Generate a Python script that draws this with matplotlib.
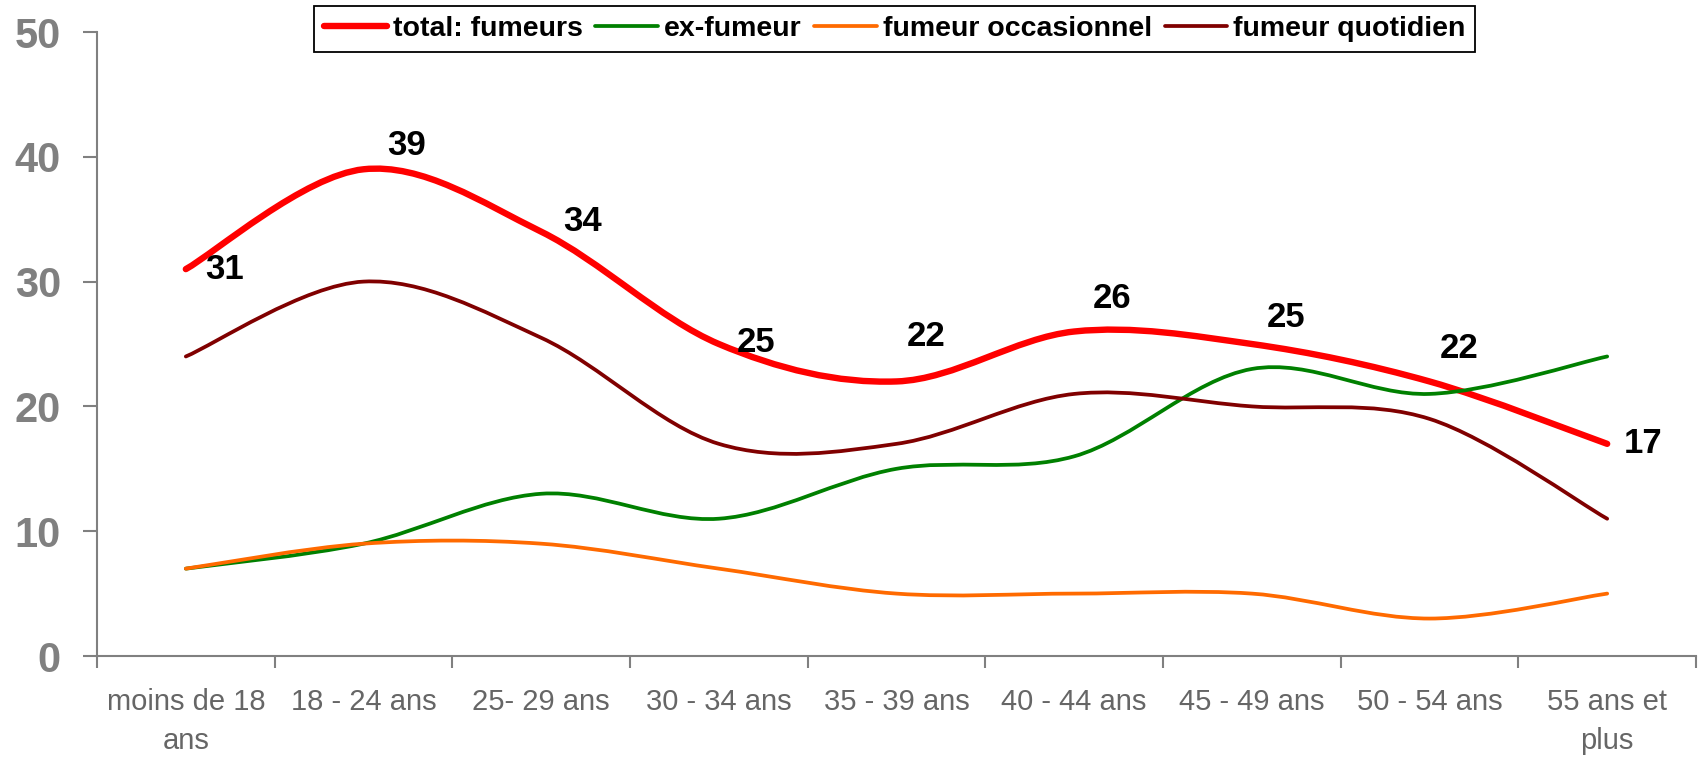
import numpy as np
import matplotlib
matplotlib.use("Agg")
import matplotlib.pyplot as plt
from matplotlib.path import Path
from matplotlib.patches import PathPatch
from matplotlib.lines import Line2D

# data (%)
categories = ["moins de 18\nans", "18 - 24 ans", "25- 29 ans", "30 - 34 ans",
              "35 - 39 ans", "40 - 44 ans", "45 - 49 ans", "50 - 54 ans",
              "55 ans et\nplus"]
total = [31, 39, 34, 25, 22, 26, 25, 22, 17]
ex_fumeur = [7, 9, 13, 11, 15, 16, 23, 21, 24]
occasionnel = [7, 9, 9, 7, 5, 5, 5, 3, 5]
quotidien = [24, 30, 25.5, 17, 17, 21, 20, 19, 11]

series_names = ["total: fumeurs", "ex-fumeur", "fumeur occasionnel", "fumeur quotidien"]
colors = ["#FF0000", "#008000", "#FF6A00", "#800000"]
widths = [4.6, 2.7, 2.7, 2.7]

# offsets (points) of the value labels on the total line
label_offsets = [(28, 0), (31, 17), (30, 7), (27, 1), (21, 32),
                 (27, 24), (25, 19), (21, 24), (26, 0)]

plt.rcParams["font.family"] = ["Liberation Sans", "DejaVu Sans"]


def smooth_path(xs, ys):
    # Excel-like smoothed line: cubic bezier through every point
    pts = np.column_stack([xs, ys]).astype(float)
    pad = np.vstack([pts[0], pts, pts[-1]])
    verts = [pts[0]]
    codes = [Path.MOVETO]
    for i in range(len(pts) - 1):
        p0, p1, p2, p3 = pad[i], pad[i + 1], pad[i + 2], pad[i + 3]
        verts += [p1 + (p2 - p0) / 6, p2 - (p3 - p1) / 6, p2]
        codes += [Path.CURVE4] * 3
    return Path(verts, codes)


fig = plt.figure(figsize=(16.98, 7.57), dpi=100)
ax = fig.add_axes([97 / 1698, 101 / 757, 1599 / 1698, 624 / 757])

x = np.arange(len(categories))
handles = []
for vals, name, c, lw in zip([total, ex_fumeur, occasionnel, quotidien],
                             series_names, colors, widths):
    patch = PathPatch(smooth_path(x, vals), fill=False, edgecolor=c, lw=lw,
                      capstyle="round", joinstyle="round")
    ax.add_patch(patch)
    handles.append(Line2D([], [], color=c, lw=lw, solid_capstyle="round"))

for xi, v, off in zip(x, total, label_offsets):
    ax.annotate(str(v), (xi, v), xytext=off, textcoords="offset points",
                ha="center", va="center", fontsize=25, fontweight="bold",
                color="black")

ax.set_xlim(-0.5, len(categories) - 0.5)
ax.set_ylim(0, 50)
ax.set_yticks(range(0, 51, 10))

# ticks on category boundaries, labels in the middle
ax.set_xticks(np.arange(-0.5, len(categories), 1.0))
ax.set_xticklabels([])
ax.set_xticks(x, minor=True)
ax.set_xticklabels(categories, minor=True, fontsize=21, color="#666666",
                   linespacing=1.5)
ax.tick_params(axis="x", which="major", length=8.5, width=1.5, color="#808080",
               direction="out")
ax.tick_params(axis="x", which="minor", length=0, pad=23)
ax.tick_params(axis="y", length=10, width=1.5, color="#808080", pad=16,
               labelsize=30, labelcolor="#808080")
for lab in ax.get_yticklabels():
    lab.set_fontweight("bold")

for s in ["top", "right"]:
    ax.spines[s].set_visible(False)
for s in ["left", "bottom"]:
    ax.spines[s].set_color("#808080")
    ax.spines[s].set_linewidth(1.5)

leg = fig.legend(handles, series_names, loc="center", bbox_to_anchor=(0.527, 0.962),
                 ncol=4, frameon=True, fancybox=False, edgecolor="black",
                 framealpha=1, handlelength=2.2, handletextpad=0.2,
                 columnspacing=0.45, borderpad=0.35,
                 prop={"size": 20.5, "weight": "bold"})
leg.get_frame().set_linewidth(1.3)

fig.savefig("out.png", dpi=100)
